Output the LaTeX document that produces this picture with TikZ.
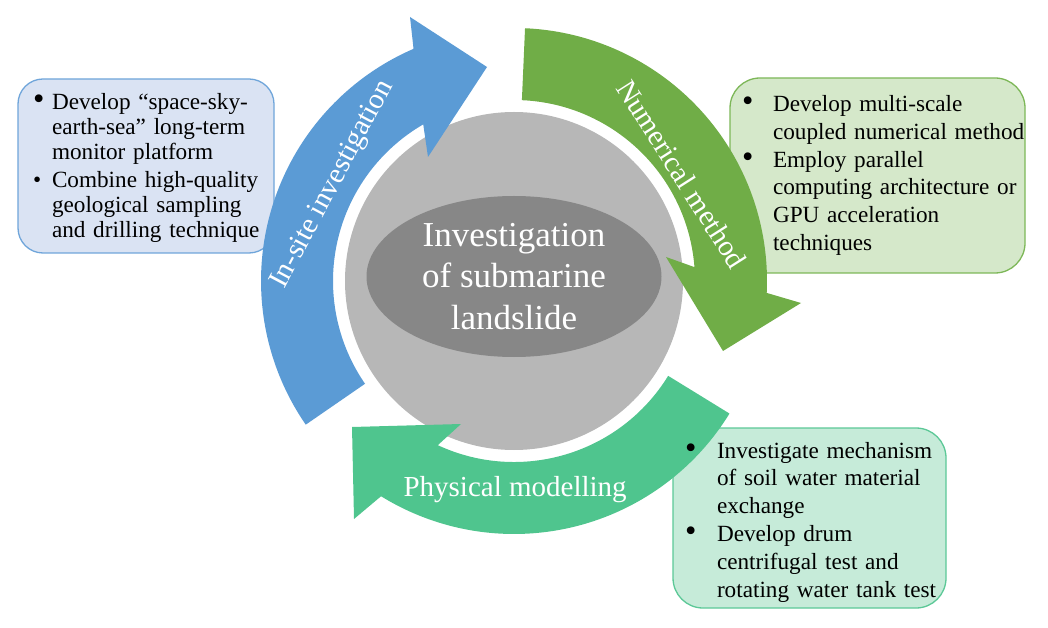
\documentclass[tikz,border=0pt]{standalone}
\usepackage{fontspec}
\setmainfont{Liberation Serif}
\usepackage{graphicx}
\usepackage{xcolor}
\usepackage{tikz}
\usetikzlibrary{shapes.geometric}

\definecolor{siteblue}{HTML}{5B9BD5}
\definecolor{siteback}{HTML}{DAE3F3}
\definecolor{siteedge}{HTML}{6FA5DA}
\definecolor{numgreen}{HTML}{70AD47}
\definecolor{numback}{HTML}{D5E8CA}
\definecolor{numedge}{HTML}{7DB758}
\definecolor{phymint}{HTML}{4FC58E}
\definecolor{phyback}{HTML}{C6EBD9}
\definecolor{phyedge}{HTML}{5CC897}
\definecolor{discgrey}{HTML}{B7B7B7}
\definecolor{coregrey}{HTML}{878787}

\setlength{\parindent}{0pt}
\newlength{\bulletskip}
\newcommand{\bitem}[2][1.4]{\makebox[\bulletskip][l]{\scalebox{#1}{\textbullet}}\mbox{#2}}
\newcommand{\bmore}[1]{\hspace*{\bulletskip}\mbox{#1}}

\begin{document}
\begin{tikzpicture}[x=1pt, y=1pt, every node/.style={inner sep=0pt},
  infobox/.style={rounded corners=30pt, line width=1.3pt},
  boxtext/.style={align=left, inner xsep=12pt},
  arrowlabel/.style={text=white, font=\fontsize{29pt}{34pt}\selectfont}]
\useasboundingbox (0,0) rectangle (1048,627);

\node[infobox, fill=siteback, draw=siteedge, rounded corners=25pt, minimum width=256pt, minimum height=174pt] (sitebox) at (146,461) {};
\node[infobox, fill=numback, draw=numedge, minimum width=295pt, minimum height=195pt] (numbox) at (877.5,451.5) {};
\node[infobox, fill=phyback, draw=phyedge, minimum width=273pt, minimum height=180pt] (phybox) at (809.5,109) {};

\node[circle, fill=discgrey, minimum size=338pt] (disc) at (514,346) {};
\node[ellipse, fill=coregrey, minimum width=295pt, minimum height=161pt, text=white, align=center,
  font=\fontsize{35pt}{41.7pt}\selectfont] (core) at (514,350.5) {Investigation\\of submarine\\landslide};

\begin{scope}[shift={(514,346)}]
\fill[siteblue] (214.6:253pt) arc[start angle=214.6, end angle=113.4, radius=253pt] -- (-104,264) -- (-27,214) -- (-86,124)
  -- (120.1:181pt) arc[start angle=120.1, end angle=214.6, radius=181pt] -- cycle;
\fill[numgreen] (87.5:253pt) arc[start angle=87.5, end angle=-2.7, radius=253pt] -- (287,-22) -- (209,-70) -- (152,24)
  -- (4.4:181pt) arc[start angle=4.4, end angle=87.5, radius=181pt] -- cycle;
\fill[phymint] (328.4:253pt) arc[start angle=328.4, end angle=238.3, radius=253pt] -- (-160,-238) -- (-162,-146) -- (-53,-143)
  -- (245.1:181pt) arc[start angle=245.1, end angle=328.4, radius=181pt] -- cycle;

\node[arrowlabel, rotate=62] (sitelabel) at (152:205pt) {In-site investigation};
\node[arrowlabel, rotate=-57.5] (numlabel) at (32.5:199pt) {Numerical method};
\node[arrowlabel] (phylabel) at (270.3:209pt) {Physical modelling};
\end{scope}

\node[boxtext, inner xsep=15pt, text width=226pt, yshift=-2pt,
  font=\fontsize{23.2pt}{25pt}\selectfont\setlength{\bulletskip}{19pt}] (sitetext) at (sitebox) {%
\bitem{Develop “space-sky-}\\
\bmore{earth-sea” long-term}\\
\bmore{monitor platform}\\[3pt]
\bitem[1]{Combine high-quality}\\
\bmore{geological sampling}\\
\bmore{and drilling technique}};
\node[boxtext, text width=271pt,
  font=\fontsize{23.2pt}{27.8pt}\selectfont\setlength{\bulletskip}{31pt}] (numtext) at (numbox) {%
\bitem{Develop multi-scale}\\
\bmore{coupled numerical method}\\
\bitem{Employ parallel}\\
\bmore{computing architecture or}\\
\bmore{GPU acceleration}\\
\bmore{techniques}};
\node[boxtext, text width=249pt, yshift=-4pt,
  font=\fontsize{23.2pt}{27.8pt}\selectfont\setlength{\bulletskip}{32pt}] (phytext) at (phybox) {%
\bitem{Investigate mechanism}\\
\bmore{of soil water material}\\
\bmore{exchange}\\
\bitem{Develop drum}\\
\bmore{centrifugal test and}\\
\bmore{rotating water tank test}};
\end{tikzpicture}
\end{document}
